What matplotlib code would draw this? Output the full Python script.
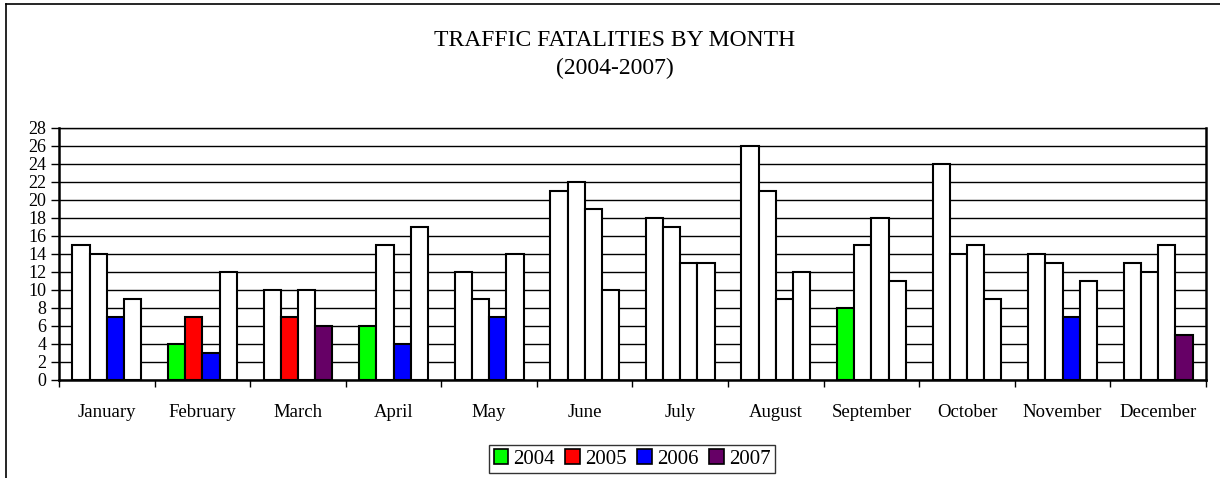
import matplotlib.pyplot as plt
from matplotlib.patches import Patch
from matplotlib.lines import Line2D
import numpy as np

plt.rcParams['font.family'] = ['Liberation Serif', 'DejaVu Serif']

months = ['January', 'February', 'March', 'April', 'May', 'June', 'July',
          'August', 'September', 'October', 'November', 'December']
years = ['2004', '2005', '2006', '2007']
fatalities_2004 = [15, 4, 10, 6, 12, 21, 18, 26, 8, 24, 14, 13]
fatalities_2005 = [14, 7, 7, 15, 9, 22, 17, 21, 15, 14, 13, 12]
fatalities_2006 = [7, 3, 10, 4, 7, 19, 13, 9, 18, 15, 7, 15]
fatalities_2007 = [9, 12, 6, 17, 14, 10, 13, 12, 11, 9, 11, 5]
series = [fatalities_2004, fatalities_2005, fatalities_2006, fatalities_2007]

year_colors = ['#00ff00', '#ff0000', '#0000ff', '#660066']
highlight_max = 8  # months with 8 or fewer fatalities are filled in colour

W, H = 1220, 478
fig = plt.figure(figsize=(W / 100, H / 100), dpi=100)

# outer chart frame (left and top edges visible)
fig.add_artist(Line2D([6 / W, 6 / W], [0, 1 - 4 / H], transform=fig.transFigure,
                      color='black', lw=1.2))
fig.add_artist(Line2D([6 / W, 1], [1 - 4 / H, 1 - 4 / H], transform=fig.transFigure,
                      color='black', lw=1.2))

ax = fig.add_axes([59 / W, (H - 380) / H, (1206 - 59) / W, (380 - 128) / H])

x = np.arange(len(months))
width = 0.18
for j, vals in enumerate(series):
    colors = [year_colors[j] if v <= highlight_max else 'white' for v in vals]
    ax.bar(x + (j - 1.5) * width, vals, width, color=colors,
           edgecolor='black', linewidth=1.5, zorder=3)

ax.set_xlim(-0.5, len(months) - 0.5)
ax.set_ylim(0, 28)
ax.set_yticks(np.arange(0, 29, 2))
ax.yaxis.grid(True, color='black', linewidth=1)
ax.set_axisbelow(True)

ax.set_xticks(np.arange(-0.5, len(months), 1))
ax.set_xticklabels([])
ax.set_xticks(x, minor=True)
ax.set_xticklabels(months, minor=True)
ax.tick_params(axis='x', which='minor', length=0, pad=17, labelsize=13.5)
ax.tick_params(axis='x', which='major', length=5, width=1)
ax.tick_params(axis='y', length=6, width=1, pad=3, labelsize=13)

for side in ['left', 'right', 'bottom']:
    ax.spines[side].set_linewidth(1.8)
ax.spines['top'].set_linewidth(1)

fig.text(615 / W, 1 - 40 / H, 'TRAFFIC FATALITIES BY MONTH', ha='center',
         va='center', fontsize=17)
fig.text(615 / W, 1 - 68 / H, '(2004-2007)', ha='center', va='center', fontsize=17)

handles = [Patch(facecolor=c, edgecolor='black', linewidth=1.2) for c in year_colors]
leg = fig.legend(handles, years, loc='center', bbox_to_anchor=(632 / W, 1 - 459 / H),
                 ncol=4, fontsize=15, frameon=True, fancybox=False,
                 handlelength=0.7, handleheight=0.7, handletextpad=0.25,
                 columnspacing=0.5, borderpad=0.2, borderaxespad=0)
leg.get_frame().set_edgecolor('black')
leg.get_frame().set_linewidth(1)

fig.savefig('out.png', dpi=100)
